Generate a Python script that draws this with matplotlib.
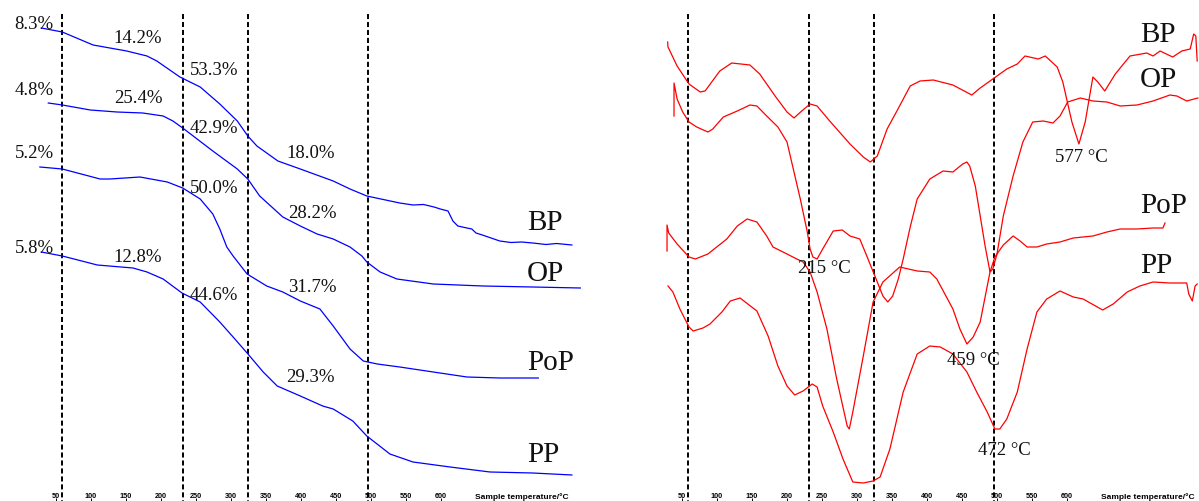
import matplotlib
matplotlib.use("Agg")
import matplotlib.pyplot as plt

plt.rcParams["font.family"] = ["Liberation Serif", "DejaVu Serif"]

# ---------- TGA traces (left panel): temperature in °C, trace height in offset units (0 = top)
tga_bp_t = [29, 59, 103, 151, 180, 194, 227, 256, 284, 309, 324, 337, 367, 399, 446, 470, 494,
            541, 560, 575, 590, 599, 610, 617, 624, 637, 644, 650, 659, 684, 700, 715, 731, 750, 765, 787]
tga_bp_y = [29, 33, 46, 52, 57, 62, 78, 88, 105, 122, 137, 147, 162, 170, 182, 190, 197,
            204, 206, 205.5, 208, 210, 212, 222, 227, 229, 230, 234, 236, 242, 243.5, 243, 244, 245.5, 244.5, 246]

tga_op_t = [39, 59, 99, 137, 174, 203, 217, 231, 274, 309, 324, 341, 374, 399, 423, 446, 470,
            487, 494, 513, 537, 589, 660, 731, 799]
tga_op_y = [104, 106, 111, 113, 114, 117, 122, 129, 152, 170, 180, 197, 218, 227, 235, 240, 248,
            257, 263, 273, 280, 285, 287, 288, 289]

tga_pop_t = [27, 59, 113, 127, 170, 209, 231, 256, 274, 284, 294, 303, 323, 351, 374, 399, 427,
             446, 470, 489, 509, 541, 589, 637, 684, 739]
tga_pop_y = [168, 170, 180, 180, 178, 183, 189, 200, 215, 230, 248, 257, 275, 287, 293, 302, 310,
             327, 350, 362, 365, 368, 373, 378, 379, 379]

tga_pp_t = [29, 59, 109, 160, 180, 203, 230, 256, 284, 303, 323, 346, 366, 399, 431, 446, 474,
            494, 527, 560, 613, 670, 731, 787]
tga_pp_y = [253, 257, 266, 269, 273, 280, 294, 303, 323, 338, 354, 373, 387, 397, 407, 410, 422,
            437, 455, 463, 468, 473, 474, 476]

# ---------- DTG traces (right panel)
dtg_bp_t = [29.5, 30, 43, 60, 76, 83, 104, 121, 147, 161, 183, 200, 210, 221, 233, 243, 261, 290,
            309, 319, 329, 343, 357, 376, 390, 409, 437, 464, 476, 494, 514, 529, 540, 559, 569,
            586, 594, 607, 617, 626, 637, 644, 654, 669, 690, 714, 723, 733, 751, 764, 776, 781,
            784, 786]
dtg_bp_y = [43, 48, 67, 85, 93, 92, 72, 64, 66, 75, 97, 113, 119, 112, 105, 107, 122, 145,
            158, 163, 157, 130, 112, 87, 82, 81, 86, 96, 89, 80, 70, 65, 57, 60, 57,
            68, 83, 123, 145, 123, 78, 83, 92, 75, 57, 54, 57, 52, 58, 52, 50, 35,
            37, 62]

dtg_op_t = [38.6, 38.6, 43, 51, 60, 71, 87, 94, 109, 129, 147, 157, 171, 187, 200, 209, 219,
            229, 233, 237, 243, 251, 266, 279, 290, 304, 314, 329, 337, 344, 351, 359, 366, 376,
            386, 404, 423, 437, 451, 457, 461, 469, 476, 483, 490, 494, 500, 509, 523, 537, 551,
            566, 580, 590, 601, 619, 637, 657, 676, 700, 723, 747, 757, 771, 787]
dtg_op_y = [117, 84, 100, 113, 123, 128, 133, 130, 118, 112, 106, 107, 117, 128, 143, 170, 200,
            233, 250, 258, 260, 250, 232, 231, 237, 240, 257, 283, 297, 303, 297, 280, 260, 228,
            200, 180, 172, 173, 165, 163, 167, 187, 217, 247, 273, 270, 255, 217, 177, 143, 123,
            122, 124, 117, 103, 99, 102, 103, 107, 106, 102, 96, 97, 102, 99]

dtg_pop_t = [28.6, 28.6, 31, 43, 60, 69, 87, 114, 129, 143, 157, 171, 180, 200, 214, 223, 233,
             243, 257, 271, 286, 289, 294, 309, 323, 337, 361, 386, 404, 414, 437, 447, 457, 466,
             476, 490, 497, 509, 523, 533, 543, 557, 571, 590, 609, 637, 657, 676, 700, 723, 737, 740]
dtg_pop_y = [252, 226, 234, 245, 258, 260, 255, 240, 227, 220, 223, 237, 248, 255, 260, 263, 273,
             293, 330, 380, 427, 430, 413, 357, 303, 283, 268, 272, 273, 280, 310, 330, 345, 338,
             323, 273, 258, 246, 237, 242, 248, 248, 245, 243, 239, 237, 233, 230, 230, 229, 229, 224]

dtg_pp_t = [30, 37, 47, 60, 66, 80, 90, 107, 119, 133, 144, 157, 173, 187, 200, 211, 223, 236,
            243, 251, 266, 280, 294, 309, 323, 333, 347, 366, 386, 404, 419, 437, 457, 471, 486,
            497, 504, 514, 529, 543, 557, 571, 590, 609, 623, 651, 666, 686, 704, 723, 747, 771,
            774, 779, 783, 786]
dtg_pp_y = [287, 293, 310, 328, 332, 329, 325, 313, 302, 299, 305, 312, 337, 367, 387, 396, 392, 385,
            388, 407, 433, 460, 483, 484, 482, 478, 450, 393, 355, 347, 348, 355, 373, 393, 413,
            430, 430, 420, 393, 350, 313, 300, 292, 298, 300, 311, 305, 293, 287, 283, 284, 284,
            295, 302, 287, 285]

# reference temperatures marked with dashed lines
marker_t = [59, 231, 325, 496]

# axis ticks
tick_t = [50, 100, 150, 200, 250, 300, 350, 400, 450, 500, 550, 600]

# annotations: (text, temperature, height)
tga_pct = [("8.3%", 19, 29), ("14.2%", 167, 43), ("53.3%", 276, 75),
           ("4.8%", 19, 95), ("25.4%", 167, 103), ("42.9%", 276, 133),
           ("5.2%", 19, 158), ("18.0%", 414, 158), ("50.0%", 276, 193),
           ("28.2%", 416, 218), ("5.8%", 19, 253), ("12.8%", 167, 262),
           ("31.7%", 416, 292), ("44.6%", 276, 300), ("29.3%", 414, 382)]
tga_names = [("BP", 723, 230), ("OP", 723, 281), ("PoP", 723, 370), ("PP", 723, 462)]
dtg_names = [("BP", 704, 42), ("OP", 704, 87), ("PoP", 704, 213), ("PP", 704, 273)]
dtg_peaks = [("577 °C", 620, 162), ("215 °C", 254, 273), ("459 °C", 466, 365), ("472 °C", 511, 455)]

PX_PER_C = 0.7
W, H = 1199, 502

fig = plt.figure(figsize=(W / 100, H / 100), dpi=100)
ax_l = fig.add_axes([0, 0, 600 / W, 1])
ax_r = fig.add_axes([599 / W, 0, 600 / W, 1])
ax_l.set_xlim(-30, -30 + 600 / PX_PER_C)
ax_r.set_xlim(-68.57, -68.57 + 600 / PX_PER_C)

for ax in (ax_l, ax_r):
    ax.set_ylim(H, 0)
    for s in ax.spines.values():
        s.set_visible(False)
    ax.set_yticks([])
    ax.set_xticks(tick_t)
    ax.set_xticklabels([str(t) for t in tick_t], fontfamily="Liberation Sans",
                       fontweight="bold", fontsize=5.2)
    ax.tick_params(axis="x", direction="in", length=2, width=0.7, pad=-6.3, colors="black")
    ax.patch.set_alpha(0)
    ax.vlines(marker_t, 15, H, colors="black", linewidth=1.4, linestyles=(0, (2.6, 1.5)))
    ax.text(716, 497, "Sample temperature/°C", ha="center", va="center",
            fontfamily="Liberation Sans", fontweight="bold", fontsize=6.0)

blue = "#0000ff"
for t, y in [(tga_bp_t, tga_bp_y), (tga_op_t, tga_op_y),
             (tga_pop_t, tga_pop_y), (tga_pp_t, tga_pp_y)]:
    ax_l.plot(t, y, color=blue, lw=0.9, solid_joinstyle="round")

red = "#ff0000"
for t, y in [(dtg_bp_t, dtg_bp_y), (dtg_op_t, dtg_op_y),
             (dtg_pop_t, dtg_pop_y), (dtg_pp_t, dtg_pp_y)]:
    ax_r.plot(t, y, color=red, lw=0.9, solid_joinstyle="round")

for s, t, y in tga_pct:
    ax_l.text(t, y, s, ha="center", va="baseline", fontsize=13.5, color="#111111")
for s, t, y in tga_names:
    ax_l.text(t, y, s, ha="left", va="baseline", fontsize=21, color="#111111")
for s, t, y in dtg_names:
    ax_r.text(t, y, s, ha="left", va="baseline", fontsize=21, color="#111111")
for s, t, y in dtg_peaks:
    ax_r.text(t, y, s, ha="center", va="baseline", fontsize=13.5, color="#111111")

fig.savefig("out.png", dpi=100)
